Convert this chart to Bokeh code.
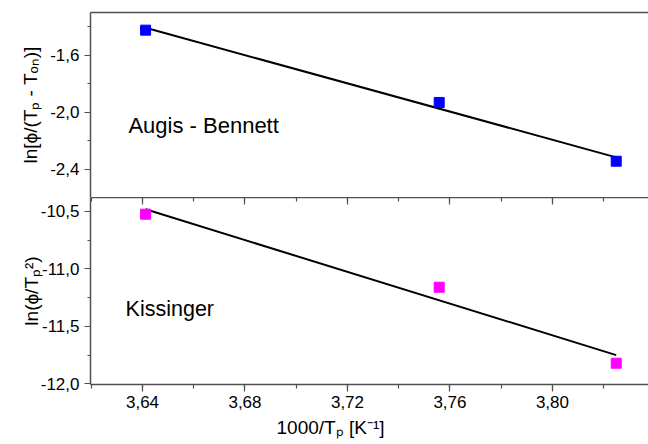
import numpy as np
from bokeh.plotting import figure
from bokeh.layouts import column
from bokeh.models import (LinearAxis, SingleIntervalTicker, FixedTicker, Title,
                          CustomJSTickFormatter, CustomLabelingPolicy, Label, Range1d)
from bokeh.embed import file_html
from bokeh.resources import INLINE

# ---------------- data ----------------
inv_tp = [3.6412, 3.7558, 3.8249]              # 1000/T_P [K^-1]
augis_bennett = [-1.424, -1.932, -2.345]       # ln[phi/(T_P - T_on)]
kissinger = [-10.525, -11.160, -11.820]        # ln(phi/T_P^2)

x_label = "1000/Tₚ [K⁻¹]"
top_ylabel = "ln[ϕ/(Tₚ - Tₒₙ)]"
bot_ylabel = "ln(ϕ/Tₚ²)"
top_text = "Augis - Bennett"
bot_text = "Kissinger"

FONT = "Liberation Sans"
AXIS_COLOR = "#505050"
TICK_FONT = "17px"
LABEL_FONT = "19px"

x_range = Range1d(3.6197, 3.8375)
top_yrange = Range1d(-2.6, -1.3)
bot_yrange = Range1d(-12.005, -10.38)


def fit_line(xs, ys):
    k, b = np.polyfit(xs, ys, 1)
    xx = np.array([min(xs), max(xs)])
    return xx, k * xx + b


def style_y(ax, interval):
    ax.ticker = SingleIntervalTicker(interval=interval, num_minor_ticks=2)
    ax.formatter = CustomJSTickFormatter(code="return tick.toFixed(1).replace('.', ',');")
    ax.axis_line_color = AXIS_COLOR
    ax.axis_line_width = 1.5
    ax.major_tick_line_color = AXIS_COLOR
    ax.minor_tick_line_color = AXIS_COLOR
    ax.major_tick_line_width = 1.2
    ax.minor_tick_line_width = 1.2
    ax.major_tick_out = 6
    ax.major_tick_in = 0
    ax.minor_tick_out = 3
    ax.minor_tick_in = 0
    ax.major_label_text_font = FONT
    ax.major_label_text_font_size = TICK_FONT
    ax.major_label_text_color = "black"
    ax.major_label_standoff = 5
    ax.axis_label_text_font = FONT
    ax.axis_label_text_font_size = LABEL_FONT
    ax.axis_label_text_font_style = "normal"
    ax.axis_label_text_color = "black"


NO_LABELS = CustomLabelingPolicy(
    code="const arr = [...indices]; for (const i of arr) indices.unset(i); return indices;")


def bare_axis(ax, tick_in=0, minor_in=0):
    ax.axis_line_color = AXIS_COLOR
    ax.axis_line_width = 1.5
    ax.major_tick_out = 0
    ax.minor_tick_out = 0
    ax.major_tick_in = tick_in
    ax.minor_tick_in = minor_in
    if tick_in == 0:
        ax.ticker = FixedTicker(ticks=[])
        ax.major_tick_line_color = None
        ax.minor_tick_line_color = None
    else:
        ax.major_tick_line_color = AXIS_COLOR
        ax.minor_tick_line_color = AXIS_COLOR
        ax.major_tick_line_width = 1.2
        ax.minor_tick_line_width = 1.2
    ax.major_label_policy = NO_LABELS
    ax.major_label_text_font_size = "0px"
    ax.major_label_standoff = 0
    ax.axis_label = None


# ---------------- top panel ----------------
p1 = figure(x_range=x_range, y_range=top_yrange, title=None,
            width=648, height=197,
            min_border_left=90, min_border_right=0,
            min_border_top=12, min_border_bottom=0,
            output_backend="svg", toolbar_location=None,
            x_axis_location=None, y_axis_location="left")
p1.outline_line_color = None
p1.grid.visible = False
style_y(p1.yaxis[0], 0.4)
p1.yaxis[0].axis_label = top_ylabel
p1.yaxis[0].axis_label_standoff = 6

top_ax = LinearAxis()
bare_axis(top_ax)
p1.add_layout(top_ax, "above")

xx, yy = fit_line(inv_tp, augis_bennett)
p1.line(xx, yy, line_color="black", line_width=2)
p1.scatter(inv_tp, augis_bennett, marker="square", size=10,
           fill_color="#0000FF", line_color="#0000FF")
p1.add_layout(Label(x=3.6345, y=-2.093, text=top_text, text_font=FONT,
                    text_font_size="22px", text_baseline="alphabetic",
                    text_color="black"))

# ---------------- bottom panel ----------------
p2 = figure(x_range=x_range, y_range=bot_yrange, title=None,
            width=648, height=247,
            min_border_left=90, min_border_right=0,
            min_border_top=0, min_border_bottom=60,
            output_backend="svg", toolbar_location=None,
            x_axis_location="below", y_axis_location="left")
p2.outline_line_color = None
p2.grid.visible = False
style_y(p2.yaxis[0], 0.5)
p2.yaxis[0].axis_label = bot_ylabel
p2.yaxis[0].axis_label_standoff = -4

xa = p2.xaxis[0]
xa.ticker = SingleIntervalTicker(interval=0.04, num_minor_ticks=2)
xa.formatter = CustomJSTickFormatter(code="return tick.toFixed(2).replace('.', ',');")
xa.axis_line_color = AXIS_COLOR
xa.axis_line_width = 1.5
xa.major_tick_line_color = AXIS_COLOR
xa.minor_tick_line_color = AXIS_COLOR
xa.major_tick_line_width = 1.2
xa.minor_tick_line_width = 1.2
xa.major_tick_out = 7
xa.major_tick_in = 0
xa.minor_tick_out = 4
xa.minor_tick_in = 0
xa.major_label_text_font = FONT
xa.major_label_text_font_size = TICK_FONT
xa.major_label_text_color = "black"
xa.major_label_standoff = 4
xa.axis_label = None

sep_ax = LinearAxis(ticker=SingleIntervalTicker(interval=0.04, num_minor_ticks=2))
bare_axis(sep_ax, tick_in=7, minor_in=4)
p2.add_layout(sep_ax, "above")

xx, yy = fit_line(inv_tp, kissinger)
p2.line(xx, yy, line_color="black", line_width=2)
p2.scatter(inv_tp, kissinger, marker="square", size=10,
           fill_color="#FF00FF", line_color="#FF00FF")
p2.add_layout(Label(x=3.6334, y=-11.35, text=bot_text, text_font=FONT,
                    text_font_size="21.5px", text_baseline="alphabetic",
                    text_color="black"))

# x-axis title, placed left of the frame centre as in the original
p2.add_layout(Title(text=x_label, align="left", offset=186, standoff=9,
                    text_font=FONT, text_font_size=LABEL_FONT,
                    text_font_style="normal", text_color="black"), "below")

layout = column(p1, p2, spacing=0)

open("out.html", "w").write(file_html(layout, INLINE))
